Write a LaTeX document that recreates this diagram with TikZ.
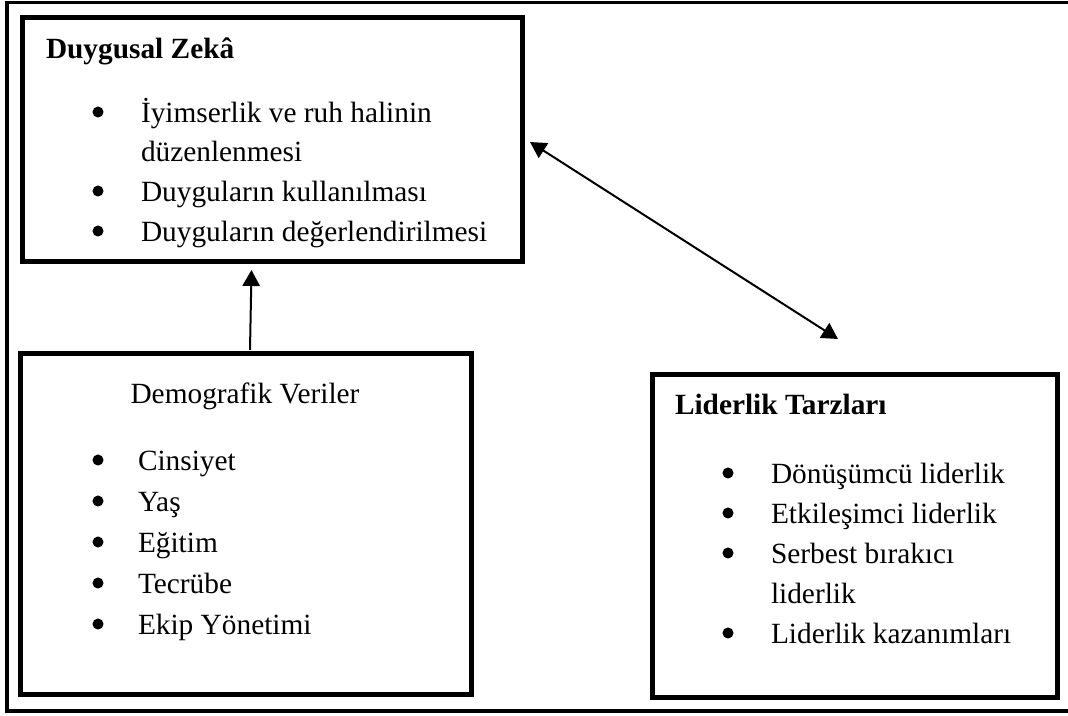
\documentclass[tikz,border=0pt]{standalone}
\usepackage{fontspec}
\setmainfont{Liberation Serif}
\usetikzlibrary{arrows.meta}

\newcommand{\govde}{\fontsize{22}{30}\selectfont}
\tikzset{every picture/.style={line width=1.5pt}}
\tikzset{
  kutu/.style={draw, rectangle, line width=3.75pt, inner sep=0pt},
  yazi/.style={anchor=base west, inner sep=0pt, font=\govde},
  baslik/.style={anchor=base west, inner sep=0pt, font=\govde\bfseries},
  madde/.style={circle, fill, inner sep=0pt, minimum size=8.3pt},
  okucu/.style={-{Triangle[length=12pt,width=13pt]}},
  ciftok/.style={{Triangle[length=12pt,width=13pt]}-{Triangle[length=12pt,width=13pt]}}
}

\begin{document}
\begin{tikzpicture}[x=0.75pt,y=0.75pt,yscale=-1,xscale=1]
\useasboundingbox (0,0) rectangle (1068,715);

%Shape: Rectangle [outer frame, open on the right]
\draw [line width=2.8pt] (7,2.5) rectangle (1085,711);

%Shape: Rectangle [id:zeka]
\node [kutu, minimum width=375pt, minimum height=183pt] (zeka) at (272.5,139) {};
%Shape: Rectangle [id:demo]
\node [kutu, minimum width=338.25pt, minimum height=256.1pt] (demo) at (245.5,523.75) {};
%Shape: Rectangle [id:lider]
\node [kutu, minimum width=303.75pt, minimum height=242.6pt] (lider) at (855,535.75) {};

% Text Node
\node [baslik] (zekabaslik) at (45,58) {Duygusal Zekâ};
\foreach \y [count=\i] in {122,201,241}
  \node [madde] (zekanokta\i) at (98,\y-10) {};
\foreach \y/\t [count=\i] in {122/İyimserlik ve ruh halinin,161/düzenlenmesi,201/Duyguların kullanılması,241/Duyguların değerlendirilmesi}
  \node [yazi] (zekasatir\i) at (140,\y) {\t};

% Text Node
\node [anchor=base, inner sep=0pt, font=\govde] (demobaslik) at (245,403) {Demografik Veriler};
\foreach \y/\t [count=\i] in {470/Cinsiyet,511/Yaş,552/Eğitim,593/Tecrübe,634/Ekip Yönetimi}
  {
  \node [madde] (demonokta\i) at (98,\y-10) {};
  \node [yazi] (demosatir\i) at (137,\y) {\t};
  }

% Text Node
\node [baslik] (liderbaslik) at (674,414) {Liderlik Tarzları};
\foreach \y [count=\i] in {483,523,563,643}
  \node [madde] (lidernokta\i) at (728,\y-10) {};
\foreach \y/\t [count=\i] in {483/Dönüşümcü liderlik,523/Etkileşimci liderlik,563/Serbest bırakıcı,603/liderlik,643/Liderlik kazanımları}
  \node [yazi] (lidersatir\i) at (770,\y) {\t};

%Straight Lines [demo -> zeka]
\coordinate (demoust) at (250,350);
\coordinate (zekaalt) at (251.5,270);
\draw [okucu] (demoust) -- (zekaalt);
%Straight Lines [zeka <-> lider]
\coordinate (zekasag) at (530,142);
\coordinate (liderust) at (838,339);
\draw [ciftok] (zekasag) -- (liderust);

\end{tikzpicture}
\end{document}
